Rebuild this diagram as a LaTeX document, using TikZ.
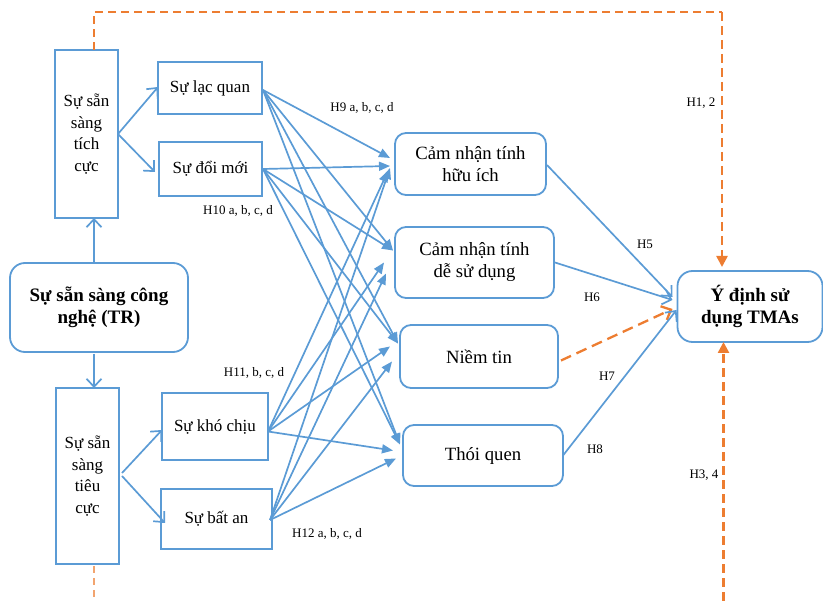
\documentclass[tikz,border=0pt]{standalone}
\usepackage{fontspec}
\setmainfont{Liberation Serif}
\usetikzlibrary{arrows.meta,calc}
\definecolor{bl}{HTML}{5B9BD5}
\definecolor{org}{HTML}{ED7D31}
\begin{document}
\begin{tikzpicture}[x=1pt,y=-1pt,
  box/.style={draw=bl, line width=1.8pt, inner sep=0pt, outer sep=0pt, align=center,
              font=\fontsize{17}{21.5}\selectfont, text=black},
  rbox/.style={box, rounded corners=11pt, font=\fontsize{18.7}{22}\selectfont},
  bbox/.style={box, rounded corners=15pt, font=\bfseries\fontsize{19}{22.3}\selectfont},
  link/.style={draw=bl, line width=1.7pt, -{Triangle[length=11pt,width=9pt]}},
  openarr/.style={draw=bl, line width=1.7pt, -{Straight Barb[length=8pt,width=15pt]}},
  odash/.style={draw=org, line width=1.5pt, dash pattern=on 8pt off 5pt},
  othick/.style={draw=org, line width=2.5pt, dash pattern=on 9pt off 5pt, -{Triangle[length=11pt,width=11pt]}},
  hl/.style={font=\fontsize{13}{15}\selectfont, inner sep=0pt, text=black},
]
\useasboundingbox (0,0) rectangle (823,601);

% nodes
\node[box, minimum width=63pt, minimum height=168pt] (pos) at (86.5,134) {Sự sẵn\\sàng\\tích\\cực};
\node[box, minimum width=104pt, minimum height=52pt] (lac) at (210,88) {Sự lạc quan};
\node[box, minimum width=103pt, minimum height=54pt] (doi) at (210.5,169) {Sự đổi mới};
\node[bbox, minimum width=178pt, minimum height=89pt] (tr) at (99,307.5) {Sự sẵn sàng công\\nghệ (TR)};
\node[box, minimum width=63pt, minimum height=176pt] (neg) at (87.5,476) {Sự sẵn\\sàng\\tiêu\\cực};
\node[box, minimum width=106pt, minimum height=67pt] (kho) at (215,426.5) {Sự khó chịu};
\node[box, minimum width=111pt, minimum height=60pt] (batan) at (216.5,519) {Sự bất an};
\node[rbox, minimum width=151pt, minimum height=62pt] (huuich) at (470.5,164) {Cảm nhận tính\\hữu ích};
\node[rbox, minimum width=159pt, minimum height=71pt] (desd) at (474.5,262.5) {Cảm nhận tính\\dễ sử dụng};
\node[rbox, minimum width=158pt, minimum height=63pt] (niem) at (479,356.5) {Niềm tin};
\node[rbox, minimum width=160pt, minimum height=61pt] (thoi) at (483,455.5) {Thói quen};
\node[bbox, minimum width=145pt, minimum height=71pt] (ydinh) at (750,306.5) {Ý định sử\\dụng TMAs};

% left structure
\draw[openarr] ([shift={(-5,0)}]tr.north) -- ([shift={(7.5,0)}]pos.south);
\draw[openarr] ([shift={(-5,2)}]tr.south) -- ([shift={(6.5,0)}]neg.north);
\draw[openarr] (pos.east) -- ([shift={(0,-1)}]lac.west);
\draw[openarr] (pos.east) -- ([shift={(-4,3)}]doi.west);
\draw[openarr] ([shift={(3,-3)}]neg.east) -- ([shift={(0,3.5)}]kho.west);
\draw[openarr] ([shift={(3,0)}]neg.east) -- ([shift={(4,4)}]batan.west);

% fan from Su lac quan
\draw[link] ([shift={(1,2)}]lac.east) -- ([shift={(-5,-6)}]huuich.west);
\draw[link] ([shift={(1,2)}]lac.east) -- ([shift={(-2,-12)}]desd.west);
\draw[link] ([shift={(1,2)}]lac.east) -- ([shift={(-2,-13)}]niem.west);
\draw[link] ([shift={(1,2)}]lac.east) -- ([shift={(-3,-11)}]thoi.west);
% fan from Su doi moi
\draw[link] ([shift={(1,0)}]doi.east) -- ([shift={(-5,2)}]huuich.west);
\draw[link] ([shift={(1,0)}]doi.east) -- ([shift={(-2,-12)}]desd.west);
\draw[link] ([shift={(1,0)}]doi.east) -- ([shift={(-2,-13)}]niem.west);
\draw[link] ([shift={(1,0)}]doi.east) -- ([shift={(-3,-11)}]thoi.west);
% fan from Su kho chiu
\draw[link] ([shift={(0,5)}]kho.east) -- ([shift={(-7,7)}]huuich.west);
\draw[link] ([shift={(0,5)}]kho.east) -- ([shift={(-11,0)}]desd.west);
\draw[link] ([shift={(0,5)}]kho.east) -- ([shift={(-10,-10)}]niem.west);
\draw[link] ([shift={(0,5)}]kho.east) -- ([shift={(-10,-5)}]thoi.west);
% fan from Su bat an
\draw[link] ([shift={(-2,1)}]batan.east) -- ([shift={(-5,4)}]huuich.west);
\draw[link] ([shift={(-2,1)}]batan.east) -- ([shift={(-9,11)}]desd.west);
\draw[link] ([shift={(-2,1)}]batan.east) -- ([shift={(-8,5)}]niem.west);
\draw[link] ([shift={(-2,1)}]batan.east) -- ([shift={(-7,3)}]thoi.west);

% to intention
\draw[openarr] ([shift={(1,1)}]huuich.east) -- ([shift={(-5,-9.5)}]ydinh.west);
\draw[openarr] ([shift={(1,0)}]desd.east) -- ([shift={(-5,-6.5)}]ydinh.west);
\draw[draw=org, line width=2.3pt, dash pattern=on 11pt off 6pt, -{Straight Barb[length=8pt,width=15pt]}]
  ([shift={(3,4)}]niem.east) -- ([shift={(-5,2.5)}]ydinh.west);
\draw[openarr] ([shift={(0,0)}]thoi.east) -- ([shift={(-1,3.5)}]ydinh.west);

% orange dashed direct paths
\coordinate (c1) at (94,12);
\coordinate (c2) at (722,12);
\coordinate (b1) at (94,601);
\coordinate (b2) at (723.5,601);
\draw[odash] ([shift={(7.5,0)}]pos.north) -- (c1) -- (c2);
\draw[othick] (c2) -- ([shift={(-28,-4)}]ydinh.north);
\draw[draw=org!70, line width=1.2pt, dash pattern=on 7pt off 5pt] ([shift={(6.5,2)}]neg.south) -- (b1);
\draw[othick] (b2) -- ([shift={(-26.5,0)}]ydinh.south);

% labels
\node[hl] (l9) at (362,108) {H9 a, b, c, d};
\node[hl] (l10) at (238,211) {H10 a, b, c, d};
\node[hl] (l11) at (254,373) {H11, b, c, d};
\node[hl] (l12) at (327,534) {H12 a, b, c, d};
\node[hl] (l12h) at (701,103) {H1, 2};
\node[hl] (l34) at (704,475) {H3, 4};
\node[hl] (l5) at (645,244) {H5};
\node[hl] (l6) at (592,297) {H6};
\node[hl] (l7) at (607,376) {H7};
\node[hl] (l8) at (595,449) {H8};
\end{tikzpicture}
\end{document}
